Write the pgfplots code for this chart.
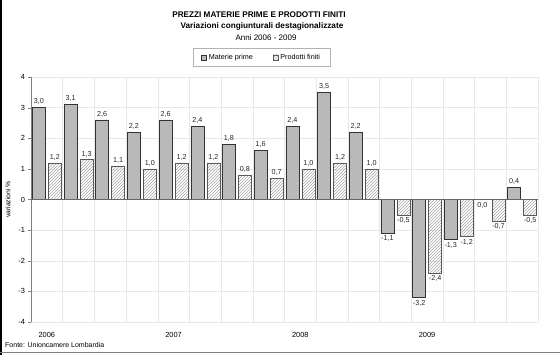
\documentclass[border=0pt]{standalone}
\usepackage{pgfplots}
\pgfplotsset{compat=1.18}
\usetikzlibrary{patterns}
\usepackage{fontspec}
\setmainfont{Liberation Sans}
\definecolor{barg}{RGB}{185,185,185}
\definecolor{gridc}{RGB}{232,232,232}
\definecolor{txt}{RGB}{40,40,40}
\begin{document}
\begin{tikzpicture}
\path[use as bounding box] (0,0) rectangle (560pt,-355pt);
\fill[black] (0,0) rectangle (2pt,-355pt);
\draw[gray,line width=1pt] (0,-352.5pt) -- (560pt,-352.5pt);
\node[font=\bfseries\fontsize{8.2}{9}\selectfont] at (259pt,-15pt) {PREZZI MATERIE PRIME E PRODOTTI FINITI};
\node[font=\bfseries\fontsize{8.2}{9}\selectfont] at (262pt,-26.5pt) {Variazioni congiunturali destagionalizzate};
\node[font=\fontsize{8}{9}\selectfont] at (266pt,-37.5pt) {Anni 2006 - 2009};
\node[font=\fontsize{7}{8}\selectfont, anchor=west, inner sep=0pt] at (5pt,-345pt) {Fonte: Unioncamere Lombardia};
\begin{axis}[
  at={(31pt,-322pt)}, anchor=south west,
  scale only axis, width=507pt, height=245pt,
  xmin=-0.5, xmax=15.5, ymin=-4, ymax=4,
  ybar=3pt, bar width=13pt,
  /pgf/number format/assume math mode=true,
  axis lines*=left,
  x axis line style={draw=none},
  y axis line style={draw=gray},
  xtick={0,4,8,12}, xticklabels={2006,2007,2008,2009},
  x tick label style={font=\fontsize{7.4}{8}\selectfont, yshift=-4pt},
  major x tick style={draw=none},
  minor xtick={-0.5,0.5,...,15.5},
  minor x tick style={draw=none},
  xminorgrids=true,
  minor grid style={gridc},
  ytick={-4,-3,...,4},
  y tick label style={font=\fontsize{7.4}{8}\selectfont},
  ytick style={draw=gray},
  tick align=outside, major tick length=2.5pt,
  ymajorgrids=true, major grid style={gridc},
  ylabel={variazioni \%},
  ylabel style={font=\fontsize{6.8}{8}\selectfont, yshift=1pt},
  nodes near coords={\pgfmathprintnumber[fixed,fixed zerofill,precision=1,use comma]{\pgfplotspointmeta}},
  nodes near coords align={vertical},
  every node near coord/.append style={font=\fontsize{7.2}{8}\selectfont, text=txt, inner sep=2.5pt},
  legend columns=2,
  legend style={at={(0.455,1.08)}, anchor=center, draw=gray!60,
    font=\fontsize{7.2}{8}\selectfont, /tikz/every even column/.append style={column sep=18pt},
    inner xsep=8pt, inner ysep=3.5pt},
  area legend,
  legend image code/.code={\draw[#1] (0pt,-2.5pt) rectangle (5pt,2.5pt);},
  clip=false,
]
\addplot[fill=barg, draw=black!80, line width=0.5pt,
  coordinate style/.condition={\coordindex==14}{anchor=north}] coordinates {
(0,3.0) (1,3.1) (2,2.6) (3,2.2) (4,2.6) (5,2.4) (6,1.8) (7,1.6)
(8,2.4) (9,3.5) (10,2.2) (11,-1.1) (12,-3.2) (13,-1.3) (14,0.0) (15,0.4)};
\addplot[pattern=north east lines, pattern color=gray!70, draw=black!65, line width=0.5pt] coordinates {
(0,1.2) (1,1.3) (2,1.1) (3,1.0) (4,1.2) (5,1.2) (6,0.8) (7,0.7)
(8,1.0) (9,1.2) (10,1.0) (11,-0.5) (12,-2.4) (13,-1.2) (14,-0.7) (15,-0.5)};
\legend{Materie prime, Prodotti finiti}
\draw[gray!80!black, line width=0.8pt] (axis cs:-0.5,0) -- (axis cs:15.5,0);
\end{axis}
\end{tikzpicture}
\end{document}
